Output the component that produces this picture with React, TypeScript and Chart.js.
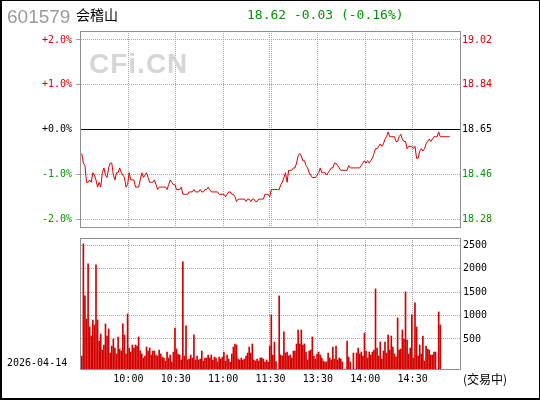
import React, { useEffect, useRef } from "react";
import { Chart, registerables } from "chart.js";

Chart.register(...registerables);

// ---------- text ----------
const CODE = "601579";
const NAME = "会稽山";
const QUOTE = "18.62 -0.03 (-0.16%)";
const DATE = "2026-04-14";
const STATUS = "(交易中)";
const WATERMARK = "CFi.CN";

// ---------- data ----------
const PREV_CLOSE = 18.65;
const PCT_TICKS = [2, 1, 0, -1, -2];
const PCT_RANGE = 2.2;
const VOL_TICKS = [500, 1000, 1500, 2000, 2500];
const VOL_MIN = -162;
const VOL_MAX = 2655;
const SESSION_MINUTES = 240;
const TIME_TICK_MINUTES = [30, 60, 90, 120, 150, 180, 210];
const TIME_LABELS = ["10:00", "10:30", "11:00", "11:30", "13:30", "14:00", "14:30"];
const MIDDAY_MINUTE = 120;

const PRICES = [
  18.55, 18.51, 18.50, 18.43, 18.43, 18.44, 18.43, 18.47, 18.46, 18.44,
  18.41, 18.43, 18.41, 18.47, 18.49, 18.46, 18.45, 18.49, 18.51, 18.51,
  18.46, 18.44, 18.47, 18.47, 18.49, 18.47, 18.46, 18.45, 18.41, 18.42,
  18.47, 18.44, 18.44, 18.44, 18.41, 18.41, 18.41, 18.44, 18.47, 18.45,
  18.46, 18.47, 18.45, 18.43, 18.43, 18.43, 18.44, 18.42, 18.40, 18.41,
  18.41, 18.41, 18.41, 18.41, 18.40, 18.42, 18.44, 18.43, 18.42, 18.42,
  18.40, 18.40, 18.40, 18.41, 18.38, 18.38, 18.38, 18.38, 18.39, 18.39,
  18.39, 18.40, 18.39, 18.39, 18.39, 18.40, 18.39, 18.39, 18.40, 18.40,
  18.41, 18.40, 18.39, 18.39, 18.39, 18.39, 18.39, 18.38, 18.38, 18.38,
  18.38, 18.37, 18.38, 18.39, 18.39, 18.38, 18.38, 18.37, 18.35, 18.36,
  18.36, 18.36, 18.36, 18.36, 18.35, 18.36, 18.36, 18.35, 18.36, 18.36,
  18.35, 18.35, 18.36, 18.36, 18.36, 18.36, 18.38, 18.38, 18.38, 18.37,
  18.40, 18.40, 18.40, 18.40, 18.40, 18.40, 18.42, 18.43, 18.45, 18.47,
  18.43, 18.48, 18.48, 18.48, 18.49, 18.49, 18.51, 18.54, 18.55, 18.54,
  18.52, 18.52, 18.50, 18.49, 18.47, 18.46, 18.45, 18.45, 18.45, 18.46,
  18.47, 18.49, 18.47, 18.47, 18.47, 18.46, 18.47, 18.48, 18.49, 18.49,
  18.51, 18.51, 18.50, 18.49, 18.48, 18.48, 18.48, 18.48, 18.48, 18.50,
  18.49, 18.49, 18.49, 18.49, 18.49, 18.49, 18.49, 18.50, 18.51, 18.52,
  18.51, 18.52, 18.51, 18.52, 18.53, 18.55, 18.57, 18.57, 18.58, 18.59,
  18.58, 18.59, 18.61, 18.62, 18.64, 18.62, 18.62, 18.62, 18.62, 18.60,
  18.60, 18.62, 18.63, 18.61, 18.60, 18.60, 18.57, 18.58, 18.58, 18.58,
  18.57, 18.58, 18.53, 18.53, 18.56, 18.57, 18.56, 18.57, 18.59, 18.60,
  18.61, 18.60, 18.61, 18.62, 18.62, 18.62, 18.64, 18.62, 18.62, 18.62,
  18.62, 18.62, 18.62, 18.62,
];

const VOLUMES: (number | null)[] = [
  137, 2530, 1419, 927, 2103, 756, 564, 906, 799, 2081,
  906, 457, 607, 265, 372, 821, 564, 714, 201, 350,
  500, 308, 180, 543, 286, 244, 821, 586, 180, 1034,
  308, 222, 372, 308, 372, 350, 543, 244, 180, 94,
  137, 329, 244, 308, 158, 244, 244, 158, 137, 265,
  180, 115, 94, 30, 222, 94, 158, 9, 222, 735,
  286, 180, 158, 51, 2146, 137, 778, 51, 73, 158,
  94, 586, 51, 137, 51, 73, 244, 30, 94, 94,
  158, 94, 158, 51, 115, 94, 9, 115, 73, 115,
  222, 30, 158, 73, 9, 180, 329, 393, 372, 73,
  51, 94, 51, 73, 137, 201, 329, 201, 393, 51,
  30, 73, 30, 94, 94, 73, 9, 51, 9, 350,
  1013, 158, 436, 20, null, 1419, 158, 137, 650, 201,
  222, 137, 158, 94, 244, 244, 393, 692, 393, 692,
  372, 393, 222, 51, 244, 265, 543, 137, 73, 180,
  222, 158, 94, 30, 9, 10, 201, 94, 51, 329,
  73, 350, 51, 94, 73, 9, null, null, 457, 115,
  9, null, 201, null, 201, 308, 180, 222, 137, 628,
  244, 94, 222, 158, 222, 265, 1569, 308, 137, 436,
  73, 244, 436, 201, 586, 265, 564, 329, 180, 120,
  949, 265, 286, 692, 500, 1504, 479, 180, 308, 1013,
  94, 1269, 756, 137, 372, 180, 564, 30, 350, 286,
  265, 158, 158, 222, 222, null, 1077, 799, null, null,
  null, null, null, null,
];

// ---------- style ----------
const RED = "#d40000";
const GREEN = "#009600";
const GRID = "#a8a8a8";
const FRAME = "#909090";
const MONO = "'DejaVu Sans Mono', monospace";

const pctOf = (p: number) => (p / PREV_CLOSE - 1) * 100;
const colorOfSign = (v: number) => (Math.abs(v) < 1e-9 ? "#000" : v > 0 ? RED : GREEN);

const framePlugin = {
  id: "frameAndMidday",
  beforeDatasetsDraw(chart: any, _args: any, opts: any) {
    const { ctx, chartArea, scales } = chart;
    const { left, right, top, bottom } = chartArea;
    ctx.save();
    const xm = scales.x.getPixelForValue(MIDDAY_MINUTE - 0.5);
    ctx.strokeStyle = GRID;
    ctx.lineWidth = 1;
    ctx.setLineDash([1, 1]);
    for (const dx of [-1, 1]) {
      const px = Math.round(xm + dx) - 0.5;
      ctx.beginPath();
      ctx.moveTo(px, top);
      ctx.lineTo(px, bottom);
      ctx.stroke();
    }
    ctx.setLineDash([]);
    if (opts && opts.zeroLine) {
      const y0 = Math.round(scales.y.getPixelForValue(0)) - 0.5;
      ctx.strokeStyle = "#000";
      ctx.beginPath();
      ctx.moveTo(left, y0);
      ctx.lineTo(right, y0);
      ctx.stroke();
    }
    ctx.restore();
  },
  afterDraw(chart: any) {
    const { ctx, chartArea } = chart;
    const { left, right, top, bottom } = chartArea;
    ctx.save();
    ctx.strokeStyle = FRAME;
    ctx.lineWidth = 1;
    ctx.strokeRect(left - 0.5, top + 0.5, right - left + 1, bottom - top - 1);
    ctx.restore();
  },
};

const timeTicks = (s: any) => {
  s.ticks = TIME_TICK_MINUTES.map((m) => ({ value: m - 0.5 }));
};
const timeGridColor = (ctx: any) =>
  ctx.tick && Math.abs(ctx.tick.value - (MIDDAY_MINUTE - 0.5)) < 1e-6 ? "rgba(0,0,0,0)" : GRID;
const noPad = (s: any) => {
  s.paddingTop = 0;
  s.paddingBottom = 0;
  s.paddingLeft = 0;
  s.paddingRight = 0;
};

export default function App() {
  const priceRef = useRef<HTMLCanvasElement | null>(null);
  const volRef = useRef<HTMLCanvasElement | null>(null);

  useEffect(() => {
    const priceChart = new Chart(priceRef.current as HTMLCanvasElement, {
      type: "line",
      data: {
        datasets: [
          {
            data: PRICES.map((p, i) => ({ x: i, y: pctOf(p) })),
            borderColor: RED,
            borderWidth: 1,
            pointRadius: 0,
            tension: 0,
            yAxisID: "y",
          },
        ],
      },
      options: {
        animation: false,
        responsive: false,
        maintainAspectRatio: false,
        events: [],
        layout: { padding: { top: 31, bottom: 4, left: 0, right: 0 } },
        plugins: {
          legend: { display: false },
          tooltip: { enabled: false },
          frameAndMidday: { zeroLine: true },
        } as any,
        scales: {
          x: {
            type: "linear",
            offset: false,
            min: -0.5,
            max: SESSION_MINUTES - 0.5,
            afterBuildTicks: timeTicks,
            afterFit: (s: any) => {
              s.height = 0;
              noPad(s);
            },
            ticks: { display: false },
            grid: { color: timeGridColor, drawTicks: false, lineWidth: 1, offset: false },
            border: { display: false, dash: [1, 1] },
          },
          y: {
            type: "linear",
            position: "left",
            min: -PCT_RANGE,
            max: PCT_RANGE,
            afterBuildTicks: (s: any) => {
              s.ticks = PCT_TICKS.map((v) => ({ value: v }));
            },
            afterFit: (s: any) => {
              s.width = 81;
              noPad(s);
            },
            ticks: {
              padding: 4,
              font: { family: MONO, size: 10 },
              color: (c: any) => colorOfSign(c.tick ? c.tick.value : 0),
              callback: (v: any) => {
                const n = Number(v);
                return (n >= 0 ? "+" : "") + n.toFixed(1) + "%";
              },
            },
            grid: {
              color: (c: any) => (c.tick && Math.abs(c.tick.value) < 1e-9 ? "rgba(0,0,0,0)" : GRID),
              drawTicks: true,
              tickLength: 5,
              lineWidth: 1,
            },
            border: { display: false, dash: [1, 1] },
          },
          y2: {
            type: "linear",
            position: "right",
            min: PREV_CLOSE * (1 - PCT_RANGE / 100),
            max: PREV_CLOSE * (1 + PCT_RANGE / 100),
            afterBuildTicks: (s: any) => {
              s.ticks = PCT_TICKS.map((v) => ({ value: PREV_CLOSE * (1 + v / 100) }));
            },
            afterFit: (s: any) => {
              s.width = 80;
              noPad(s);
            },
            ticks: {
              padding: 2,
              font: { family: MONO, size: 10 },
              color: (c: any) => colorOfSign(c.tick ? c.tick.value - PREV_CLOSE : 0),
              callback: (v: any) => Number(v).toFixed(2),
            },
            grid: { display: false, drawTicks: false },
            border: { display: false },
          },
        },
      } as any,
      plugins: [framePlugin],
    });

    const volChart = new Chart(volRef.current as HTMLCanvasElement, {
      type: "bar",
      data: {
        datasets: [
          {
            data: VOLUMES.map((v, i) => ({ x: i, y: v })),
            backgroundColor: RED,
            borderWidth: 0,
            barThickness: 1,
            base: VOL_MIN,
            yAxisID: "y",
          } as any,
        ],
      },
      options: {
        animation: false,
        responsive: false,
        maintainAspectRatio: false,
        events: [],
        layout: { padding: { top: 6, bottom: 0, left: 81, right: 0 } },
        plugins: {
          legend: { display: false },
          tooltip: { enabled: false },
          frameAndMidday: { zeroLine: false },
        } as any,
        scales: {
          x: {
            type: "linear",
            offset: false,
            min: -0.5,
            max: SESSION_MINUTES - 0.5,
            afterBuildTicks: timeTicks,
            afterFit: (s: any) => {
              s.height = 30;
              noPad(s);
            },
            ticks: {
              autoSkip: false,
              maxRotation: 0,
              padding: 3,
              color: "#000",
              font: { family: MONO, size: 10 },
              callback: (_v: any, i: number) => TIME_LABELS[i],
            },
            grid: { color: timeGridColor, drawTicks: false, lineWidth: 1, offset: false },
            border: { display: false, dash: [1, 1] },
          },
          y: {
            type: "linear",
            position: "right",
            min: VOL_MIN,
            max: VOL_MAX,
            afterBuildTicks: (s: any) => {
              s.ticks = VOL_TICKS.map((v) => ({ value: v }));
            },
            afterFit: (s: any) => {
              s.width = 80;
              noPad(s);
            },
            ticks: {
              padding: 3,
              color: "#000",
              font: { family: MONO, size: 10 },
              callback: (v: any) => String(v),
            },
            grid: { color: GRID, drawTicks: false, lineWidth: 1 },
            border: { display: false, dash: [1, 1] },
          },
        },
      } as any,
      plugins: [framePlugin],
    });

    return () => {
      priceChart.destroy();
      volChart.destroy();
    };
  }, []);

  const abs = (s: React.CSSProperties): React.CSSProperties => ({
    position: "absolute",
    whiteSpace: "nowrap",
    margin: 0,
    ...s,
  });

  return (
    <div
      style={{
        position: "fixed",
        left: 0,
        top: 0,
        width: 540,
        height: 400,
        background: "#fff",
        overflow: "hidden",
      }}
    >
      <canvas
        ref={priceRef}
        width={540}
        height={232}
        style={{ position: "absolute", left: 0, top: 0, width: 540, height: 232 }}
      />
      <canvas
        ref={volRef}
        width={540}
        height={168}
        style={{ position: "absolute", left: 0, top: 232, width: 540, height: 168 }}
      />
      <div
        style={abs({
          left: 89,
          top: 50,
          fontFamily: "'Liberation Sans', Arial, sans-serif",
          fontWeight: 700,
          fontSize: 28,
          lineHeight: "28px",
          letterSpacing: 1,
          color: "#d6d6d6",
        })}
      >
        {WATERMARK}
      </div>
      <div
        style={abs({
          left: 7,
          top: 7,
          fontFamily: "'Liberation Sans', Arial, sans-serif",
          fontSize: 19,
          lineHeight: "19px",
          color: "#9a9a9a",
        })}
      >
        {CODE}
      </div>
      <div
        style={abs({
          left: 76,
          top: 7,
          fontFamily: "'Noto Sans CJK SC', sans-serif",
          fontSize: 14,
          lineHeight: "14px",
          color: "#000",
        })}
      >
        {NAME}
      </div>
      <div
        style={abs({
          left: 247,
          top: 8,
          fontFamily: MONO,
          fontSize: 13,
          lineHeight: "13px",
          color: GREEN,
        })}
      >
        {QUOTE}
      </div>
      <div
        style={abs({
          left: 7,
          top: 358,
          fontFamily: MONO,
          fontSize: 10,
          lineHeight: "10px",
          color: "#000",
        })}
      >
        {DATE}
      </div>
      <div
        style={abs({
          left: 463,
          top: 372,
          fontFamily: "'Noto Sans CJK SC', sans-serif",
          fontSize: 12,
          lineHeight: "14px",
          color: "#000",
        })}
      >
        {STATUS}
      </div>
      <div
        style={{
          position: "absolute",
          left: 0,
          top: 0,
          width: 540,
          height: 400,
          boxSizing: "border-box",
          borderStyle: "solid",
          borderColor: "#000",
          borderWidth: "1px 1px 2px 2px",
          pointerEvents: "none",
        }}
      />
    </div>
  );
}
